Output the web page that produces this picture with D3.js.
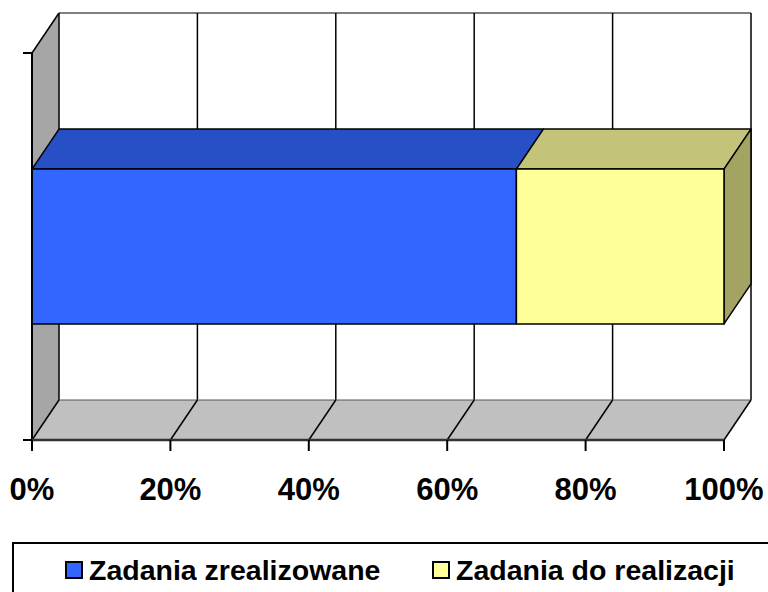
<!DOCTYPE html>
<html><head><meta charset="utf-8">
<script src="https://cdn.jsdelivr.net/npm/d3@7"></script>
<style>html,body{margin:0;padding:0;background:#fff;}svg{display:block;}</style>
</head><body>
<svg id="c" width="768" height="592"></svg>
<script>
const categories = [""];
const seriesNames = ["Zadania zrealizowane", "Zadania do realizacji"];
const seriesValues = [[70], [30]];
const tickValues = [0, 20, 40, 60, 80, 100];
const tickLabels = ["0%", "20%", "40%", "60%", "80%", "100%"];
const frontColors = ["#3366ff", "#ffff99"];
const topColors = ["#2850c6", "#c3c37a"];
const sideColors = ["#1f3f99", "#a3a362"];

(function () {
const svg = d3.select("#c");
const DX = 27, DY = -40;
const x = d3.scaleLinear().domain([0, 100]).range([32, 724]);
const y = d3.scaleBand().domain(categories).range([53, 440]).paddingInner(0).paddingOuter(0.75);
const yTop = 53, yBot = 440;
const pts = a => a.map(p => p.join(",")).join(" ");

// back wall
svg.append("polygon").attr("points", pts([[x(0)+DX, yTop+DY],[x(100)+DX, yTop+DY],[x(100)+DX, yBot+DY],[x(0)+DX, yBot+DY]]))
  .attr("fill", "#fff");
// left wall
svg.append("polygon").attr("points", pts([[x(0), yTop],[x(0)+DX, yTop+DY],[x(0)+DX, yBot+DY],[x(0), yBot]]))
  .attr("fill", "#a6a6a6");
// floor
svg.append("polygon").attr("points", pts([[x(0), yBot],[x(0)+DX, yBot+DY],[x(100)+DX, yBot+DY],[x(100), yBot]]))
  .attr("fill", "#c0c0c0");
// back wall top edge (gray)
svg.append("line").attr("x1", x(0)+DX).attr("x2", x(100)+DX).attr("y1", yTop+DY).attr("y2", yTop+DY)
  .attr("stroke", "#808080").attr("stroke-width", 2);
// back wall gridlines
svg.selectAll(".bg").data(tickValues).join("line")
  .attr("x1", d => x(d)+DX).attr("x2", d => x(d)+DX).attr("y1", yTop+DY).attr("y2", yBot+DY)
  .attr("stroke", "#000").attr("stroke-width", 1.5);
// floor back edge
svg.append("line").attr("x1", x(0)+DX).attr("x2", x(100)+DX).attr("y1", yBot+DY).attr("y2", yBot+DY)
  .attr("stroke", "#555").attr("stroke-width", 1);
// floor gridlines
svg.selectAll(".fg").data(tickValues).join("line")
  .attr("x1", d => x(d)).attr("x2", d => x(d)+DX).attr("y1", yBot).attr("y2", yBot+DY)
  .attr("stroke", "#000").attr("stroke-width", 1.5);
// left wall top diagonal
svg.append("line").attr("x1", x(0)).attr("x2", x(0)+DX).attr("y1", yTop).attr("y2", yTop+DY)
  .attr("stroke", "#000").attr("stroke-width", 1.5);

// bars
const segs = [];
categories.forEach((c, ci) => {
  let acc = 0;
  seriesValues.forEach((vals, si) => {
    segs.push({c, si, x0: acc, x1: acc + vals[ci], last: si === seriesValues.length - 1});
    acc += vals[ci];
  });
});
const by0 = s => y(s.c), by1 = s => y(s.c) + y.bandwidth();
const g = svg.append("g").attr("stroke", "#000").attr("stroke-width", 1.5).attr("stroke-linejoin", "round");
segs.forEach(s => {
  g.append("polygon").attr("points", pts([[x(s.x0), by0(s)],[x(s.x0)+DX, by0(s)+DY],[x(s.x1)+DX, by0(s)+DY],[x(s.x1), by0(s)]]))
    .attr("fill", topColors[s.si]);
  if (s.last) {
    g.append("polygon").attr("points", pts([[x(s.x1), by0(s)],[x(s.x1)+DX, by0(s)+DY],[x(s.x1)+DX, by1(s)+DY],[x(s.x1), by1(s)]]))
      .attr("fill", sideColors[s.si]);
  }
});
segs.forEach(s => {
  g.append("rect").attr("x", x(s.x0)).attr("y", by0(s)).attr("width", x(s.x1)-x(s.x0)).attr("height", y.bandwidth())
    .attr("fill", frontColors[s.si]);
});

// axes
svg.append("line").attr("x1", x(0)).attr("x2", x(0)).attr("y1", yTop).attr("y2", yBot)
  .attr("stroke", "#000").attr("stroke-width", 2);
svg.append("line").attr("x1", x(0)).attr("x2", x(100)).attr("y1", yBot).attr("y2", yBot)
  .attr("stroke", "#333").attr("stroke-width", 2.5);
svg.selectAll(".yt").data([yTop, yBot]).join("line")
  .attr("x1", 23).attr("x2", x(0)).attr("y1", d => d).attr("y2", d => d)
  .attr("stroke", "#000").attr("stroke-width", 2);
svg.selectAll(".xt").data(tickValues).join("line")
  .attr("x1", d => x(d)).attr("x2", d => x(d)).attr("y1", yBot).attr("y2", yBot + 11)
  .attr("stroke", "#000").attr("stroke-width", 2);
svg.selectAll(".xl").data(tickValues).join("text")
  .attr("x", d => x(d)).attr("y", 500).attr("text-anchor", "middle")
  .attr("font-family", "Liberation Sans, Arial, sans-serif").attr("font-weight", "bold").attr("font-size", 31)
  .attr("fill", "#000").text((d, i) => tickLabels[i]);

// legend
svg.append("rect").attr("x", 13).attr("y", 543).attr("width", 800).attr("height", 80)
  .attr("fill", "#fff").attr("stroke", "#000").attr("stroke-width", 2);
const legX = [66, 433];
seriesNames.forEach((n, i) => {
  svg.append("rect").attr("x", legX[i]).attr("y", 562).attr("width", 16).attr("height", 16)
    .attr("fill", frontColors[i]).attr("stroke", "#000").attr("stroke-width", 2);
  svg.append("text").attr("x", legX[i] + 23).attr("y", 580)
    .attr("font-family", "Liberation Sans, Arial, sans-serif").attr("font-weight", "bold").attr("font-size", 28.5)
    .attr("fill", "#000").text(n);
});
})();
</script>
</body></html>
